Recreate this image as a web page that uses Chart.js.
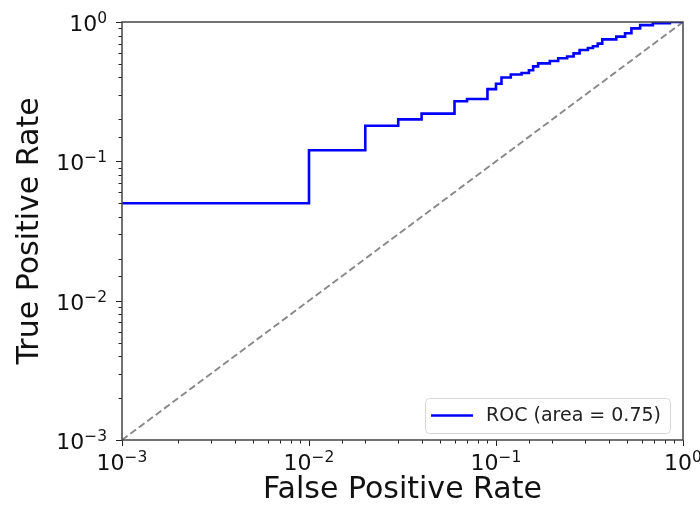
<!DOCTYPE html>
<html lang="en">
<head>
    <meta charset="UTF-8">
    <title>ROC</title>
    <script src="https://cdn.jsdelivr.net/npm/chart.js"></script>
    <style>
        html, body { margin: 0; padding: 0; background: #fff; }
        #wrap { width: 700px; height: 508px; }
    </style>
</head>
<body>
    <div id="wrap"><canvas id="roc"></canvas></div>

    <script>
        // ROC corners: at each fpr the curve rises to the matching tpr
        const fpr = [0.001, 0.01, 0.02, 0.03, 0.04, 0.06, 0.07, 0.09, 0.10, 0.107, 0.12, 0.137, 0.15, 0.158, 0.168,
                     0.194, 0.215, 0.24, 0.26, 0.28, 0.31, 0.33, 0.35, 0.37, 0.44, 0.49, 0.53, 0.59, 0.69, 0.85, 1.0];
        const tpr = [0.05, 0.12, 0.18, 0.20, 0.22, 0.27, 0.28, 0.33, 0.36, 0.40, 0.42, 0.43, 0.45, 0.48, 0.505,
                     0.525, 0.55, 0.565, 0.595, 0.63, 0.65, 0.67, 0.70, 0.75, 0.785, 0.83, 0.90, 0.95, 0.98, 1.0, 1.0];
        const chance = [0.001, 1];
        const rocArea = 0.75;
        const axisMin = 0.001;
        const axisMax = 1;

        const FONT = "'DejaVu Sans', sans-serif";
        const SUP = { '-': '\u2212', '0': '0', '1': '1', '2': '2', '3': '3' };

        // spines, tick marks and 10^n labels
        const axesPlugin = {
            id: 'axesDecor',
            afterDatasetsDraw(chart) {
                const { ctx, chartArea: a, scales } = chart;
                ctx.save();

                ctx.strokeStyle = '#222';
                ctx.lineWidth = 1;
                scales.x.ticks.forEach(t => {
                    const px = Math.round(scales.x.getPixelForValue(t.value)) + 0.5;
                    const len = t.major ? 6 : 3.5;
                    ctx.beginPath();
                    ctx.moveTo(px, a.bottom);
                    ctx.lineTo(px, a.bottom + len);
                    ctx.stroke();
                });
                scales.y.ticks.forEach(t => {
                    const py = Math.round(scales.y.getPixelForValue(t.value)) + 0.5;
                    const len = t.major ? 6 : 3.5;
                    ctx.beginPath();
                    ctx.moveTo(a.left, py);
                    ctx.lineTo(a.left - len, py);
                    ctx.stroke();
                });

                ctx.strokeStyle = '#444';
                ctx.lineWidth = 1.5;
                ctx.strokeRect(a.left, a.top, a.right - a.left, a.bottom - a.top);

                const drawPow = (v, x, y, align) => {
                    const e = Math.round(Math.log10(v));
                    const exp = String(e).split('').map(c => SUP[c] || c).join('');
                    ctx.font = '22px ' + FONT;
                    const wBase = ctx.measureText('10').width;
                    ctx.font = '15.5px ' + FONT;
                    const wExp = ctx.measureText(exp).width;
                    const total = wBase + wExp;
                    let x0 = align === 'center' ? x - total / 2 : x - total;
                    ctx.fillStyle = '#111';
                    ctx.textAlign = 'left';
                    ctx.textBaseline = 'alphabetic';
                    ctx.font = '22px ' + FONT;
                    ctx.fillText('10', x0, y);
                    ctx.font = '15.5px ' + FONT;
                    ctx.fillText(exp, x0 + wBase, y - 8);
                };

                scales.x.ticks.filter(t => t.major).forEach(t => {
                    drawPow(t.value, scales.x.getPixelForValue(t.value), a.bottom + 30, 'center');
                });
                scales.y.ticks.filter(t => t.major).forEach(t => {
                    drawPow(t.value, a.left - 15, scales.y.getPixelForValue(t.value) + 9, 'right');
                });

                // legend box, lower right
                const ds = chart.data.datasets[0];
                ctx.font = '19px ' + FONT;
                const tw = ctx.measureText(ds.label).width;
                const bw = tw + 70, bh = 35;
                const bx = a.right - 13 - bw, by = a.bottom - 7 - bh;
                ctx.beginPath();
                ctx.roundRect(bx + 0.5, by + 0.5, bw, bh, 4);
                ctx.fillStyle = 'rgba(255,255,255,0.8)';
                ctx.fill();
                ctx.strokeStyle = '#d6d6d6';
                ctx.lineWidth = 1;
                ctx.stroke();
                ctx.strokeStyle = ds.borderColor;
                ctx.lineWidth = ds.borderWidth;
                ctx.beginPath();
                ctx.moveTo(bx + 6, by + bh / 2);
                ctx.lineTo(bx + 48, by + bh / 2);
                ctx.stroke();
                ctx.fillStyle = '#222';
                ctx.textBaseline = 'middle';
                ctx.fillText(ds.label, bx + 61, by + bh / 2 + 1);

                ctx.restore();
            }
        };

        new Chart(document.getElementById('roc'), {
            type: 'line',
            data: {
                datasets: [
                    {
                        label: 'ROC (area = ' + rocArea.toFixed(2) + ')',
                        data: fpr.map((x, i) => ({ x: x, y: tpr[i] })),
                        borderColor: '#0000ff',
                        borderWidth: 2.6,
                        stepped: 'before',
                        pointRadius: 0,
                        fill: false
                    },
                    {
                        label: 'chance',
                        data: chance.map(v => ({ x: v, y: v })),
                        borderColor: '#888888',
                        borderWidth: 1.9,
                        borderDash: [7, 3.5],
                        pointRadius: 0,
                        fill: false
                    }
                ]
            },
            options: {
                responsive: true,
                maintainAspectRatio: false,
                animation: false,
                layout: { padding: { top: 22, right: 17, left: 0, bottom: 0 } },
                plugins: { legend: { display: false }, tooltip: { enabled: false } },
                scales: {
                    x: {
                        type: 'logarithmic',
                        min: axisMin,
                        max: axisMax,
                        grid: { display: false },
                        border: { display: false },
                        ticks: { display: false },
                        title: {
                            display: true,
                            text: 'False Positive Rate',
                            color: '#111',
                            font: { family: FONT, size: 30 },
                            padding: { top: 0, bottom: 0 }
                        },
                        afterFit(scale) { scale.height = 68; }
                    },
                    y: {
                        type: 'logarithmic',
                        min: axisMin,
                        max: axisMax,
                        grid: { display: false },
                        border: { display: false },
                        ticks: { display: false },
                        title: {
                            display: true,
                            text: 'True Positive Rate',
                            color: '#111',
                            font: { family: FONT, size: 30 },
                            padding: { top: 12, bottom: 0 }
                        },
                        afterFit(scale) { scale.width = 122; }
                    }
                }
            },
            plugins: [axesPlugin]
        });
    </script>
</body>
</html>
